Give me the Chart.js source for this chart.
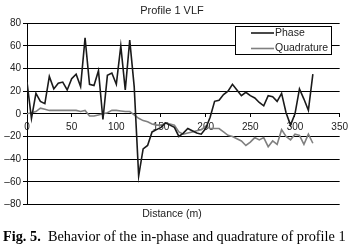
<!DOCTYPE html>
<html>
<head>
<meta charset="utf-8">
<script src="https://cdn.jsdelivr.net/npm/chart.js@4.4.1/dist/chart.umd.min.js"></script>
<style>
  html, body { margin: 0; padding: 0; background: #fff; }
  #wrap { position: relative; width: 352px; height: 248px; }
  #caption {
    position: absolute; left: 3px; top: 228px; white-space: nowrap;
    font-family: "Liberation Serif", "Times New Roman", serif; font-size: 14.3px; color: #000;
  }
</style>
</head>
<body>
<div id="wrap">
  <canvas id="c" width="352" height="248"></canvas>
  <div id="caption"><b>Fig. 5.</b>&nbsp; Behavior of the in-phase and quadrature of profile 1</div>
</div>
<script>
// distance along profile (m)
var distances = [0, 5, 10, 15, 20, 25, 30, 35, 40, 45, 50, 55, 60, 65, 70, 75, 80, 85, 90, 95,
  100, 105, 110, 115, 120, 125, 130, 135, 140, 145, 150, 155, 160, 165, 170, 175, 180, 185, 190, 195,
  200, 205, 210, 215, 220, 225, 230, 235, 240, 245, 250, 255, 260, 265, 270, 275, 280, 285, 290, 295,
  300, 305, 310, 315, 320]

var phase = [28, -4, 18, 11, 9, 33, 22, 27, 28, 21, 31, 35, 24, 67, 26, 25, 38, -5, 34, 36,
  26, 60, 21, 65, 24, -55, -31, -28, -16, -14, -12, -8, -10, -12, -20, -17, -13, -15, -17, -18,
  -13, -3, 11, 12, 17, 20, 26, 21, 16, 19, 16, 14, 10, 7, 16, 15, 11, 18, 1, -10,
  0, 22, 13, 3, 35]

var quadrature = [0, 1, 2, 5, 4, 3, 3, 3, 3, 3, 3, 3, 2, 3, -2, -2, -1, 0, 1, 3,
  3, 2.5, 2, 2, -1, -4, -6, -7, -9, -10, -10, -8, -9, -10, -16, -18, -17, -16, -15, -14,
  -11, -13, -13, -13, -16, -19, -20, -22, -24, -28, -25, -21, -23, -21, -29, -24, -27, -14, -20, -23,
  -18, -19, -27, -18, -26]

var xTicks = [0, 50, 100, 150, 200, 250, 300, 350]
var yTicks = [-80, -60, -40, -20, 0, 20, 40, 60, 80]

function toPoints(ys) {
  return ys.map(function (v, i) { return { x: distances[i], y: v } })
}

var sans = '"Liberation Sans", Arial, sans-serif'

// framed legend like the original figure
var boxLegend = {
  id: 'boxLegend',
  afterDraw: function (chart) {
    var ctx = chart.ctx
    var left = 235.5, top = 26.5, w = 96, h = 28
    ctx.save()
    ctx.fillStyle = '#fff'
    ctx.fillRect(left, top, w, h)
    ctx.strokeStyle = '#000'
    ctx.lineWidth = 1
    ctx.strokeRect(left, top, w, h)
    ctx.font = '10.5px ' + sans
    ctx.textBaseline = 'middle'
    chart.data.datasets.forEach(function (ds, i) {
      var y = top + 6.5 + i * 15.5
      ctx.strokeStyle = ds.borderColor
      ctx.lineWidth = ds.borderWidth
      ctx.beginPath()
      ctx.moveTo(251, y)
      ctx.lineTo(274, y)
      ctx.stroke()
      ctx.fillStyle = '#222'
      ctx.fillText(ds.label, 275, y)
    })
    ctx.restore()
  }
}

new Chart(document.getElementById('c'), {
  type: 'line',
  data: {
    datasets: [{
      label: 'Phase',
      data: toPoints(phase),
      borderColor: '#1a1a1a',
      borderWidth: 1.6,
      pointRadius: 0,
      tension: 0
    }, {
      label: 'Quadrature',
      data: toPoints(quadrature),
      borderColor: '#808080',
      borderWidth: 1.6,
      pointRadius: 0,
      tension: 0
    }]
  },
  options: {
    responsive: false,
    animation: false,
    layout: { padding: { left: 0, right: 8, top: 0, bottom: 26 } },
    plugins: {
      legend: { display: false },
      tooltip: { enabled: false },
      title: {
        display: true,
        text: 'Profile 1 VLF',
        color: '#222',
        font: { family: sans, size: 11, weight: 'normal' },
        padding: { top: 4, bottom: 6 }
      },
      subtitle: {
        display: true,
        position: 'bottom',
        text: 'Distance (m)',
        color: '#222',
        font: { family: sans, size: 10.5, weight: 'normal' },
        padding: { top: 3, bottom: 2 }
      }
    },
    scales: {
      x: {
        type: 'linear',
        position: { y: 0 },
        min: 0,
        max: 350,
        afterBuildTicks: function (s) { s.ticks = xTicks.map(function (v) { return { value: v } }) },
        ticks: { color: '#222', font: { family: sans, size: 10 }, padding: 4, maxRotation: 0 },
        grid: { drawOnChartArea: false, tickLength: 3, color: '#000' },
        border: { color: '#000' }
      },
      y: {
        min: -80,
        max: 80,
        afterBuildTicks: function (s) { s.ticks = yTicks.map(function (v) { return { value: v } }) },
        afterFit: function (s) { s.width = 27 },
        ticks: {
          color: '#222',
          font: { family: sans, size: 10 },
          padding: 2,
          callback: function (v) { return String(v).replace('-', '\u2013') }
        },
        grid: { color: '#000', lineWidth: 1, tickLength: 4 },
        border: { color: '#000' }
      }
    }
  },
  plugins: [boxLegend]
})
</script>
</body>
</html>
